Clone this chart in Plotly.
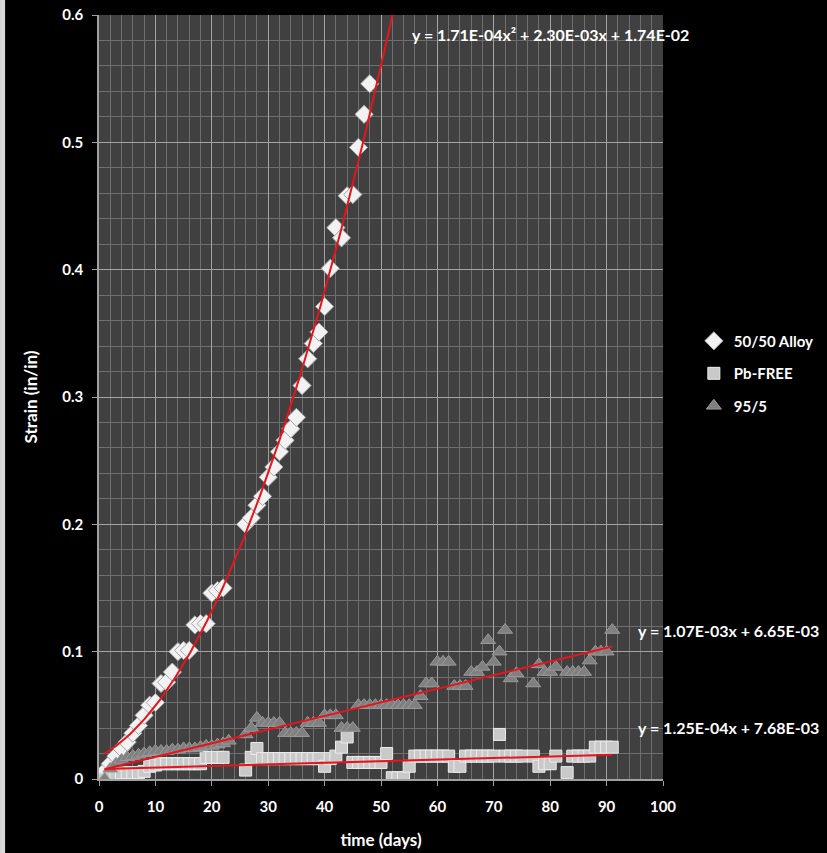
import plotly.graph_objects as go
import numpy as np

# ---------------- data ----------------
alloy_days = [1, 2, 3, 4, 5, 6, 7, 8, 9, 10, 11, 12, 13, 14, 15, 16, 17, 18, 19, 20, 21, 22,
              26, 27, 28, 29, 30, 31, 32, 33, 34, 35, 36, 37, 38, 39, 40, 41, 42, 43, 44, 45, 46, 47, 48]
alloy_strain = [0.006, 0.012, 0.018, 0.024, 0.029, 0.036, 0.042, 0.050, 0.058, 0.060, 0.075, 0.076,
                0.084, 0.100, 0.101, 0.101, 0.121, 0.122, 0.122, 0.146, 0.148, 0.150,
                0.200, 0.205, 0.215, 0.222, 0.237, 0.245, 0.257, 0.266, 0.275, 0.284, 0.309, 0.330,
                0.342, 0.351, 0.371, 0.401, 0.433, 0.425, 0.458, 0.459, 0.496, 0.522, 0.546]

pbfree_days = [1, 2, 3, 4, 5, 6, 7, 8, 9, 10, 11, 12, 13, 14, 15, 16, 17, 18, 19, 20, 21, 22,
               26, 27, 28, 29, 30, 31, 32, 33, 34, 35, 36, 37, 38, 39, 40, 41, 42, 43, 44,
               45, 46, 47, 48, 49, 50, 51, 52, 53, 54, 55, 56, 57, 58, 59, 60, 61, 62, 63, 64,
               65, 66, 67, 68, 69, 70, 71, 72, 73, 74, 75, 77, 78, 79, 80, 81, 83, 84, 85, 86, 87,
               88, 89, 90, 91]
pbfree_strain = [0.000, 0.004, 0.004, 0.005, 0.005, 0.005, 0.005, 0.006, 0.010, 0.011, 0.012, 0.012,
                 0.012, 0.012, 0.012, 0.012, 0.012, 0.012, 0.017, 0.017, 0.017, 0.017,
                 0.007, 0.017, 0.024, 0.016, 0.016, 0.016, 0.016, 0.016, 0.016, 0.016, 0.016, 0.016,
                 0.016, 0.016, 0.010, 0.016, 0.018, 0.025, 0.033,
                 0.013, 0.013, 0.013, 0.013, 0.013, 0.013, 0.020, 0.001, 0.001, 0.001, 0.010, 0.018,
                 0.018, 0.018, 0.018, 0.018, 0.018, 0.018, 0.010, 0.010,
                 0.018, 0.018, 0.018, 0.018, 0.018, 0.018, 0.035, 0.018, 0.018, 0.018, 0.018,
                 0.018, 0.010, 0.012, 0.012, 0.018, 0.005, 0.018, 0.018, 0.018, 0.018,
                 0.025, 0.025, 0.025, 0.025]

s955_days = [1, 2, 3, 4, 5, 6, 7, 8, 9, 10, 11, 12, 13, 14, 15, 16, 17, 18, 19, 20, 21, 22, 23,
             26, 27, 28, 29, 30, 31, 32, 33, 34, 35, 36, 37, 38, 39, 40, 41, 42, 43, 44, 45,
             46, 47, 48, 49, 50, 51, 52, 53, 54, 55, 56, 57, 58, 59, 60, 61, 62, 63, 64, 65,
             66, 67, 68, 69, 70, 71, 72, 73, 74, 77, 78, 79, 80, 81, 83, 84, 85, 86, 87,
             88, 89, 90, 91]
s955_strain = [0.000, 0.008, 0.012, 0.015, 0.017, 0.018, 0.019, 0.020, 0.021, 0.022, 0.022, 0.022,
               0.023, 0.023, 0.024, 0.024, 0.024, 0.025, 0.026, 0.026, 0.027, 0.028, 0.030,
               0.035, 0.040, 0.048, 0.044, 0.044, 0.044, 0.044, 0.036, 0.036, 0.036, 0.036,
               0.044, 0.044, 0.044, 0.050, 0.050, 0.050, 0.040, 0.040, 0.040,
               0.058, 0.058, 0.058, 0.058, 0.058, 0.058, 0.058, 0.058, 0.058, 0.058, 0.058,
               0.065, 0.075, 0.075, 0.092, 0.092, 0.092, 0.073, 0.073, 0.073,
               0.084, 0.084, 0.088, 0.109, 0.092, 0.100, 0.117, 0.079, 0.083,
               0.075, 0.090, 0.084, 0.084, 0.088, 0.084, 0.084, 0.084, 0.084, 0.093,
               0.100, 0.100, 0.100, 0.117]

# trendline coefficients (as displayed)
alloy_fit = [1.71e-4, 2.30e-3, 1.74e-2]      # quadratic
s955_fit = [1.07e-3, 6.65e-3]                # linear
pbfree_fit = [1.25e-4, 7.68e-3]              # linear

x_ticks = [0, 10, 20, 30, 40, 50, 60, 70, 80, 90, 100]
y_ticks = [0, 0.1, 0.2, 0.3, 0.4, 0.5, 0.6]
y_tick_labels = ["0", "0.1", "0.2", "0.3", "0.4", "0.5", "0.6"]

# ---------------- figure ----------------
FONT = "Lato"
fig = go.Figure()

fig.add_trace(go.Scatter(
    x=alloy_days, y=alloy_strain, mode="markers", name="50/50 Alloy",
    legendgroup="a",
    marker=dict(symbol="diamond", size=14, color="#f2f2f2",
                line=dict(color="#a6a6a6", width=1))))
fig.add_trace(go.Scatter(
    x=pbfree_days, y=pbfree_strain, mode="markers", name="Pb-FREE",
    legendgroup="b",
    marker=dict(symbol="square", size=12, color="#c9c9c9",
                line=dict(color="#ededed", width=1))))
fig.add_trace(go.Scatter(
    x=s955_days, y=s955_strain, mode="markers", name="95/5",
    legendgroup="c",
    marker=dict(symbol="triangle-up", size=13, color="#808080",
                line=dict(color="#9a9a9a", width=1))))

# trendlines
xa = np.linspace(1, 53, 200)
fig.add_trace(go.Scatter(x=xa, y=np.polyval(alloy_fit, xa), mode="lines",
                         line=dict(color="#e8141c", width=2), showlegend=False, hoverinfo="skip"))
xl = np.array([1, 91])
fig.add_trace(go.Scatter(x=xl, y=np.polyval(s955_fit, xl), mode="lines",
                         line=dict(color="#e8141c", width=2), showlegend=False, hoverinfo="skip"))
fig.add_trace(go.Scatter(x=xl, y=np.polyval(pbfree_fit, xl), mode="lines",
                         line=dict(color="#e8141c", width=2), showlegend=False, hoverinfo="skip"))

def fmt(v):
    m, e = f"{v:.2E}".split("E")
    return f"{m}E{int(e):+03d}".replace("+", "")

eq1 = f"y = {fmt(alloy_fit[0])}x² + {fmt(alloy_fit[1])}x + {fmt(alloy_fit[2])}"
eq2 = f"y = {fmt(s955_fit[0])}x + {fmt(s955_fit[1])}"
eq3 = f"y = {fmt(pbfree_fit[0])}x + {fmt(pbfree_fit[1])}"

ann_font = dict(family=FONT, size=16, color="white")
fig.add_annotation(text=f"<b>{eq1}</b>", xref="paper", yref="paper", x=0.551, y=0.974,
                   xanchor="left", yanchor="middle", showarrow=False, font=ann_font)
fig.add_annotation(text=f"<b>{eq2}</b>", xref="paper", yref="paper", x=0.953, y=0.195,
                   xanchor="left", yanchor="middle", showarrow=False, font=ann_font)
fig.add_annotation(text=f"<b>{eq3}</b>", xref="paper", yref="paper", x=0.953, y=0.068,
                   xanchor="left", yanchor="middle", showarrow=False, font=ann_font)

tick_font = dict(family=FONT, size=15, color="white", weight="bold")

fig.update_layout(
    width=827, height=853,
    margin=dict(l=99, r=164, t=15, b=74),
    paper_bgcolor="black",
    plot_bgcolor="#404040",
    showlegend=True,
    legend=dict(xref="container", yref="container", x=0.839, y=0.6195,
                xanchor="left", yanchor="top",
                font=dict(family=FONT, size=15, color="white", weight="bold"),
                bgcolor="rgba(0,0,0,0)", traceorder="grouped", tracegroupgap=10,
                itemwidth=30),
    xaxis=dict(range=[0, 100], tickvals=x_ticks, ticks="outside", ticklen=5,
               tickcolor="#a0a0a0", showline=True, linecolor="#a0a0a0", linewidth=1.5,
               showgrid=True, gridcolor="#a3a3a3", gridwidth=1.3, zeroline=False,
               minor=dict(dtick=2, showgrid=True, gridcolor="#6e6e6e", gridwidth=1),
               tickfont=tick_font, ticklabelstandoff=8, automargin=False,
               title=dict(text="<b>time (days)</b>", font=dict(family=FONT, size=17, color="white"),
                          standoff=20)),
    yaxis=dict(range=[0, 0.6], tickvals=y_ticks, ticktext=y_tick_labels, ticks="outside",
               ticklen=5, tickcolor="#a0a0a0", showline=True, linecolor="#a0a0a0", linewidth=1.5,
               showgrid=True, gridcolor="#a3a3a3", gridwidth=1.3, zeroline=False,
               minor=dict(dtick=0.02, showgrid=True, gridcolor="#6e6e6e", gridwidth=1),
               tickfont=tick_font, ticklabelstandoff=6, automargin=False,
               title=dict(text="<b>Strain (in/in)</b>", font=dict(family=FONT, size=17, color="white"),
                          standoff=20)),
)

# light strip on the left edge of the picture
fig.add_shape(type="rect", xref="paper", yref="paper", x0=-0.1755, x1=-0.1665, y0=-0.1, y1=1.03,
              fillcolor="#d9d9d9", line=dict(width=0), layer="below")

fig.write_html("out.html", config={"displayModeBar": False},
               post_script="document.body.style.margin='0';document.body.style.background='black';")
